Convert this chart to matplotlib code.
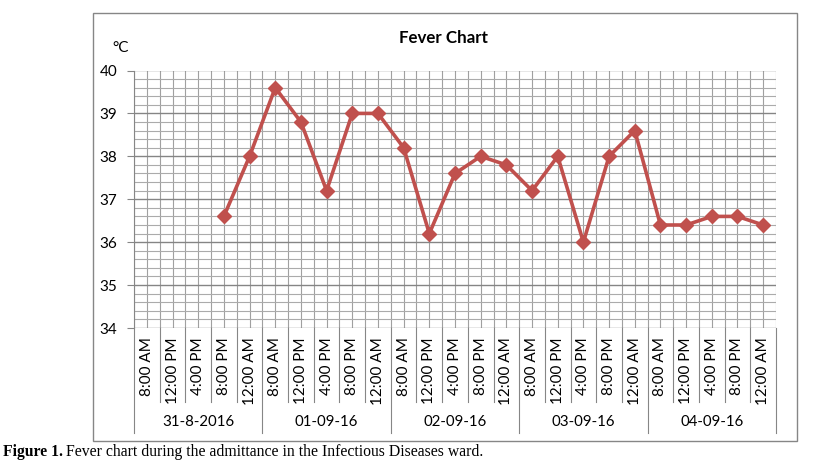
import matplotlib
matplotlib.use("Agg")
import matplotlib.pyplot as plt
import matplotlib.transforms as mtransforms
import numpy as np

W, H = 824, 462

dates = ["31-8-2016", "01-09-16", "02-09-16", "03-09-16", "04-09-16"]
times = ["8:00 AM", "12:00 PM", "4:00 PM", "8:00 PM", "12:00 AM"]
temps = [
    np.nan, np.nan, np.nan, 36.6, 38.0,
    39.6, 38.8, 37.2, 39.0, 39.0,
    38.2, 36.2, 37.6, 38.0, 37.8,
    37.2, 38.0, 36.0, 38.0, 38.6,
    36.4, 36.4, 36.6, 36.6, 36.4,
]

LINE = "#C0504D"
FONT = "Lato"


def fy(py):
    # pixel y (from top) -> figure fraction
    return 1 - py / H


fig = plt.figure(figsize=(W / 100, H / 100), dpi=100)

# chart frame
frame = plt.Rectangle((93 / W, fy(441)), (797 - 93) / W, (441 - 13) / H,
                      transform=fig.transFigure, fill=False,
                      edgecolor="#868686", lw=1.0)
fig.patches.append(frame)

left, right, top, bottom = 134, 776, 70.5, 328
ax = fig.add_axes([left / W, fy(bottom), (right - left) / W, (bottom - top) / H])

n = len(temps)
x = np.arange(n)
ax.set_xlim(-0.5, n - 0.5)
ax.set_ylim(34, 40)

# grid
for v in np.arange(-0.5, n, 0.5):
    ax.axvline(v, color="#a0a0a0", lw=0.8, zorder=0)
for v in np.arange(34, 40.01, 0.2):
    major = abs(v - round(v)) < 1e-6
    ax.axhline(v, color="#858585" if major else "#ababab",
               lw=1.0 if major else 0.8, zorder=0)

ax.plot(x, temps, color=LINE, lw=2.6, marker="D", markersize=7.5,
        markerfacecolor=LINE, markeredgecolor=LINE, zorder=3)

for s in ax.spines.values():
    s.set_visible(False)
ax.spines["left"].set_visible(True)
ax.spines["left"].set_color("#868686")

ax.set_yticks(range(34, 41))
ax.tick_params(axis="y", length=5, width=0.8, color="#868686", pad=7,
               labelsize=11, labelfontfamily=FONT)
ax.set_xticks([])

# category axis with two label levels
tr = mtransforms.blended_transform_factory(ax.transData, fig.transFigure)
for i, t in enumerate(times * len(dates)):
    ax.text(i, fy(337), t, rotation=90, ha="center", va="top",
            fontsize=11, family=FONT, transform=tr)
for b in range(n + 1):
    end = 433 if b % len(times) == 0 else 402
    ax.plot([b - 0.5, b - 0.5], [fy(bottom), fy(end)], color="#868686",
            lw=0.8, transform=tr, clip_on=False)
for d, name in enumerate(dates):
    ax.text(d * len(times) + 2, fy(422), name, ha="center", va="center",
            fontsize=10.8, family=FONT, transform=tr)

fig.text(443 / W, fy(38), "Fever Chart", ha="center", va="center",
         fontsize=12.2, fontweight="bold", family=FONT)
fig.text(121 / W, fy(48), "°C", ha="center", va="center",
         fontsize=11, family=FONT)

# caption
cap = fig.text(3 / W, fy(452), "Figure 1.", ha="left", va="center",
               fontsize=11.3, fontweight="bold", family="Liberation Serif")
fig.canvas.draw()
bb = cap.get_window_extent(fig.canvas.get_renderer())
fig.text(bb.x1 / W + 3 / W, fy(452),
         "Fever chart during the admittance in the Infectious Diseases ward.",
         ha="left", va="center", fontsize=11.3, family="Liberation Serif")

fig.savefig("out.png", dpi=100)
